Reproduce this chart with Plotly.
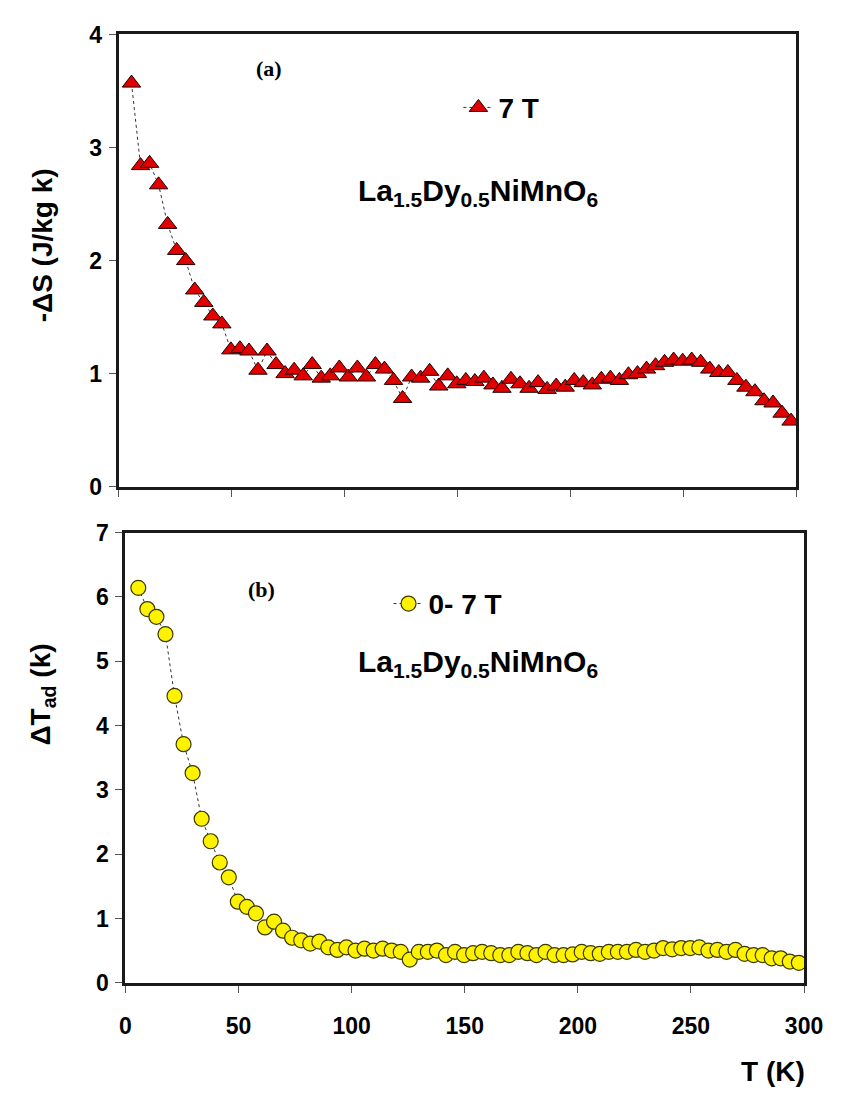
import plotly.graph_objects as go

# Panel (a): -ΔS (J/kg K) at 7 T
T_a = [5.7, 9.7, 13.7, 17.7, 21.7, 25.7, 29.7, 33.7, 37.7, 41.7, 45.7, 49.7, 53.7, 57.7,
       61.7, 65.7, 69.7, 73.7, 77.7, 81.7, 85.7, 89.7, 93.7, 97.7, 101.7, 105.7, 109.7,
       113.7, 117.7, 121.7, 125.7, 129.7, 133.7, 137.7, 141.7, 145.7, 149.7, 153.7, 157.7,
       161.7, 165.7, 169.7, 173.7, 177.7, 181.7, 185.7, 189.7, 193.7, 197.7, 201.7, 205.7,
       209.7, 213.7, 217.7, 221.7, 225.7, 229.7, 233.7, 237.7, 241.7, 245.7, 249.7, 253.7,
       257.7, 261.7, 265.7, 269.7, 273.7, 277.7, 281.7, 285.7, 289.7, 293.7, 297.7]
dS = [3.57, 2.84, 2.86, 2.67, 2.32, 2.09, 2.00, 1.74, 1.63, 1.51, 1.44, 1.21, 1.22, 1.20,
      1.03, 1.20, 1.08, 1.00, 1.03, 0.98, 1.08, 0.96, 0.98, 1.05, 0.97, 1.05, 0.97,
      1.08, 1.04, 0.94, 0.78, 0.97, 0.96, 1.02, 0.89, 0.98, 0.91, 0.94, 0.93,
      0.96, 0.90, 0.87, 0.95, 0.91, 0.87, 0.92, 0.86, 0.89, 0.88, 0.94, 0.92,
      0.90, 0.95, 0.96, 0.94, 0.99, 1.00, 1.04, 1.07, 1.10, 1.12, 1.11, 1.12,
      1.10, 1.04, 1.01, 1.01, 0.94, 0.88, 0.84, 0.76, 0.74, 0.65, 0.58]

# Panel (b): ΔT_ad (K) for 0-7 T
T_b = [5.7, 9.7, 13.7, 17.7, 21.7, 25.7, 29.7, 33.7, 37.7, 41.7, 45.7, 49.7, 53.7, 57.7,
       61.7, 65.7, 69.7, 73.7, 77.7, 81.7, 85.7, 89.7, 93.7, 97.7, 101.7, 105.7, 109.7,
       113.7, 117.7, 121.7, 125.7, 129.7, 133.7, 137.7, 141.7, 145.7, 149.7, 153.7, 157.7,
       161.7, 165.7, 169.7, 173.7, 177.7, 181.7, 185.7, 189.7, 193.7, 197.7, 201.7, 205.7,
       209.7, 213.7, 217.7, 221.7, 225.7, 229.7, 233.7, 237.7, 241.7, 245.7, 249.7, 253.7,
       257.7, 261.7, 265.7, 269.7, 273.7, 277.7, 281.7, 285.7, 289.7, 293.7, 297.7]
dT = [6.14, 5.81, 5.69, 5.42, 4.46, 3.71, 3.26, 2.55, 2.20, 1.87, 1.64, 1.26, 1.18, 1.08,
      0.86, 0.95, 0.81, 0.70, 0.66, 0.61, 0.64, 0.55, 0.51, 0.55, 0.50, 0.53, 0.50,
      0.53, 0.50, 0.48, 0.36, 0.48, 0.48, 0.50, 0.43, 0.48, 0.43, 0.46, 0.48,
      0.46, 0.43, 0.43, 0.48, 0.46, 0.43, 0.48, 0.43, 0.43, 0.44, 0.48, 0.46,
      0.45, 0.48, 0.48, 0.48, 0.51, 0.48, 0.50, 0.54, 0.52, 0.54, 0.54, 0.55,
      0.50, 0.51, 0.48, 0.51, 0.45, 0.43, 0.43, 0.38, 0.38, 0.33, 0.31]

x_ticks = [0, 50, 100, 150, 200, 250, 300]
ya_ticks = [0, 1, 2, 3, 4]
yb_ticks = [0, 1, 2, 3, 4, 5, 6, 7]

W, H = 858, 1111
FONT = "Liberation Sans, Arial, sans-serif"

def px(x):
    return x / W

def py(y):
    return 1 - y / H

fig = go.Figure()
fig.add_trace(go.Scatter(
    x=T_a, y=dS, mode="lines+markers", name="7 T",
    line=dict(color="#333333", width=1, dash="3px,3px"),
    marker=dict(symbol="triangle-up", size=16, color="#E00000",
                line=dict(color="#200000", width=1)),
    xaxis="x", yaxis="y", legend="legend"))
fig.add_trace(go.Scatter(
    x=T_b, y=dT, mode="lines+markers", name="0- 7 T",
    line=dict(color="#333333", width=1, dash="3px,3px"),
    marker=dict(symbol="circle", size=15, color="#FFF200",
                line=dict(color="#3a3a00", width=1.2)),
    xaxis="x2", yaxis="y2", legend="legend2"))

axis_common = dict(showgrid=False, zeroline=False, showline=True, mirror=True,
                   linecolor="#1a1a1a", linewidth=3, ticks="outside", ticklen=7,
                   tickwidth=1, tickcolor="#555555",
                   tickfont=dict(family=FONT, size=23, color="black", weight="bold"))

leg_font = dict(family=FONT, size=28, color="black", weight="bold")
fig.update_layout(
    width=W, height=H, margin=dict(l=0, r=0, t=0, b=0),
    paper_bgcolor="white", plot_bgcolor="white",
    xaxis=dict(domain=[px(116), px(814)], range=[0, 300], tickvals=x_ticks,
               showticklabels=False, anchor="y", **axis_common),
    yaxis=dict(domain=[py(485), py(22)], range=[0, 4], tickvals=ya_ticks,
               anchor="x", ticklabelstandoff=2, **axis_common),
    xaxis2=dict(domain=[px(123), px(822)], range=[0, 300], tickvals=x_ticks,
                anchor="y2", ticklabelstandoff=14, **axis_common),
    yaxis2=dict(domain=[py(993), py(532)], range=[0, 7], tickvals=yb_ticks,
                anchor="x2", ticklabelstandoff=2, **axis_common),
    showlegend=True,
    legend=dict(x=px(466), y=py(97), xanchor="left", yanchor="middle",
                bgcolor="rgba(0,0,0,0)", font=leg_font),
    legend2=dict(x=px(394), y=py(605), xanchor="left", yanchor="middle",
                 bgcolor="rgba(0,0,0,0)", font=leg_font),
)

ann_font = dict(family=FONT, size=30, color="black", weight="bold")
title_font = dict(family=FONT, size=28, color="black", weight="bold")
serif_font = dict(family="Liberation Serif, Times New Roman, serif", size=22,
                  color="black", weight="bold")
annotations = [
    dict(text="(a)", x=px(271), y=py(57), font=serif_font),
    dict(text="(b)", x=px(263), y=py(590), font=serif_font),
    dict(text="La<sub>1.5</sub>Dy<sub>0.5</sub>NiMnO<sub>6</sub>", x=px(486), y=py(184),
         font=ann_font),
    dict(text="La<sub>1.5</sub>Dy<sub>0.5</sub>NiMnO<sub>6</sub>", x=px(486), y=py(666),
         font=ann_font),
    dict(text="-ΔS (J/kg k)", x=px(38), y=py(238), textangle=-90, font=title_font),
    dict(text="ΔT<sub>ad</sub> (k)", x=px(38), y=py(698), textangle=-90, font=title_font),
    dict(text="T (K)", x=px(790), y=py(1084), font=title_font),
]
for a in annotations:
    a.update(xref="paper", yref="paper", showarrow=False, xanchor="center", yanchor="middle")
fig.update_layout(annotations=annotations)

fig.write_html("out.html")
